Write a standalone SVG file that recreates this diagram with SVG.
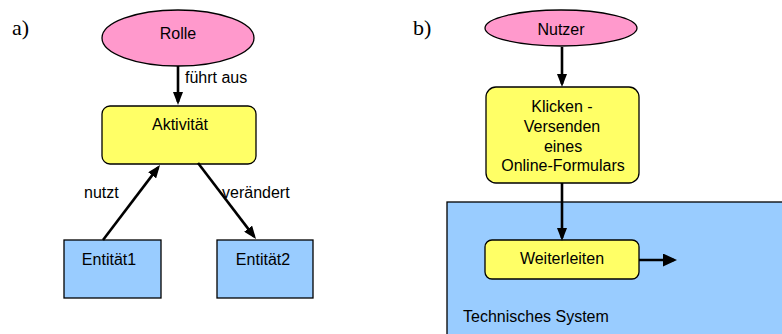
<svg xmlns="http://www.w3.org/2000/svg" width="782" height="334" viewBox="0 0 782 334">
<style>
text{font-family:"Liberation Sans",Arial,sans-serif;font-size:16px;fill:#000}
.lbl{font-family:"Liberation Serif","Times New Roman",serif;font-size:22px}
.c{text-anchor:middle}
.ell{fill:#FF99CC;stroke:#000;stroke-width:1.3}
.act{fill:#FFFF66;stroke:#000;stroke-width:1.3}
.ent{fill:#99CCFF;stroke:#000;stroke-width:1.3}
.con{stroke:#000;stroke-width:2.6;fill:none}
</style>
<defs>
<marker id="ah" markerUnits="userSpaceOnUse" markerWidth="13" markerHeight="10" refX="10" refY="5" orient="auto">
<path d="M0,0 L13,5 L0,10 z" fill="#000"/>
</marker>
<marker id="ahb" markerUnits="userSpaceOnUse" markerWidth="14" markerHeight="13" refX="11" refY="6.5" orient="auto">
<path d="M0,0 L14,6.5 L0,13 z" fill="#000"/>
</marker>
</defs>
<rect width="782" height="334" fill="#fff"/>
<text class="lbl" x="12" y="35">a)</text>
<text class="lbl" x="413" y="35">b)</text>
<g id="techsystem">
<rect class="ent" x="447" y="202" width="345" height="140"/>
<text x="463" y="322">Technisches System</text>
</g>
<g id="rolle">
<ellipse class="ell" cx="178" cy="38" rx="76" ry="28"/>
<text class="c" x="178" y="39">Rolle</text>
</g>
<g id="aktivitaet">
<rect class="act" x="102" y="106" width="154" height="58" rx="8"/>
<text class="c" x="180" y="130">Aktivität</text>
</g>
<g id="entitaet1">
<rect class="ent" x="64" y="240" width="97" height="58"/>
<text class="c" x="109" y="265">Entität1</text>
</g>
<g id="entitaet2">
<rect class="ent" x="217" y="240" width="96" height="58"/>
<text class="c" x="263" y="265">Entität2</text>
</g>
<g id="nutzer">
<ellipse class="ell" cx="561" cy="28" rx="76" ry="18"/>
<text class="c" x="561" y="35">Nutzer</text>
</g>
<g id="klicken">
<rect class="act" x="486" y="87" width="153" height="96" rx="10"/>
<text class="c" x="562" y="112">Klicken -</text>
<text class="c" x="562" y="132">Versenden</text>
<text class="c" x="563" y="152">eines</text>
<text class="c" x="563" y="171">Online-Formulars</text>
</g>
<g id="weiterleiten">
<rect class="act" x="485" y="240" width="154" height="39" rx="7"/>
<text class="c" x="562" y="264">Weiterleiten</text>
</g>
<g id="connectors">
<line class="con" x1="178" y1="66" x2="178" y2="102" marker-end="url(#ah)"/>
<text x="185" y="83">führt aus</text>
<line class="con" x1="103" y1="240" x2="158.2" y2="167.4" marker-end="url(#ah)"/>
<text x="84" y="198">nutzt</text>
<line class="con" x1="198" y1="163" x2="254.2" y2="236.6" marker-end="url(#ah)"/>
<text x="222" y="198">verändert</text>
<line class="con" x1="562" y1="47" x2="562" y2="84" marker-end="url(#ah)"/>
<line class="con" x1="562" y1="183" x2="562" y2="238" marker-end="url(#ah)"/>
<line class="con" x1="639" y1="260" x2="674" y2="260" marker-end="url(#ahb)"/>
</g>
</svg>
